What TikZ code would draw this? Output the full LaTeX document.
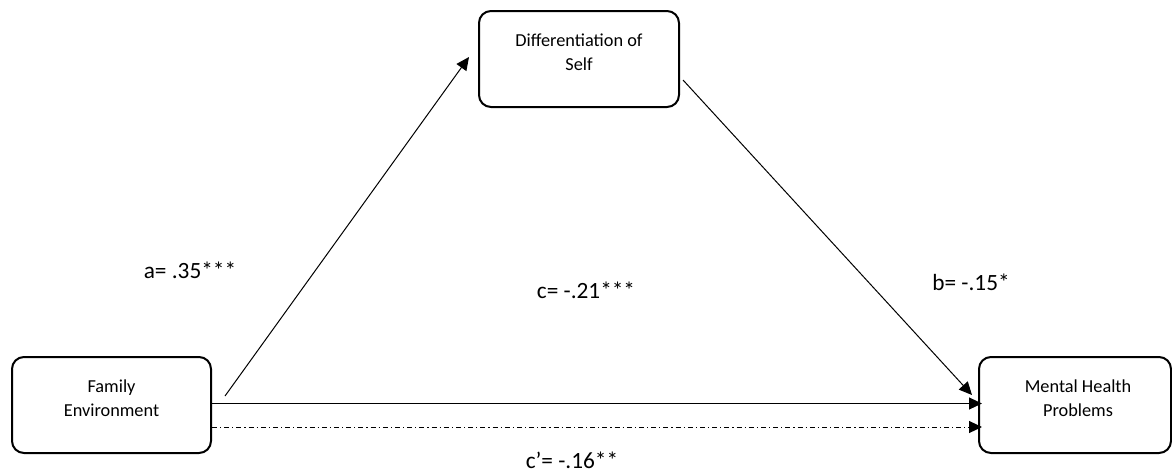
\documentclass[tikz,border=0pt]{standalone}
\usepackage{fontspec}
\setmainfont{Carlito}
\usetikzlibrary{arrows.meta}
\begin{document}
\begin{tikzpicture}[x=1pt,y=-1pt,
  box/.style={draw=black,line width=2pt,rounded corners=12pt,minimum height=96pt,inner sep=0pt},
  boxtext/.style={align=center,font=\fontsize{18.3}{24}\selectfont,inner sep=0pt},
  lab/.style={font=\fontsize{23.3}{28}\selectfont,inner sep=0pt,anchor=base},
  arr/.style={line width=1pt,-{Triangle[length=13pt,width=12pt]}},
  dashdot/.style={dash pattern=on 5pt off 3pt on 1.2pt off 3pt}]
\useasboundingbox (0,0) rectangle (1172,474);
% boxes
\node[box,minimum width=199pt] (fe) at (111.5,405) {};
\node[box,minimum width=200pt] (ds) at (579,59) {};
\node[box,minimum width=192pt] (mh) at (1075,405) {};
\node[boxtext] (fet) at (111.5,398) {Family\\Environment};
\node[boxtext] (dst) at (579,52) {Differentiation of\\Self};
\node[boxtext] (mht) at (1078,398) {Mental Health\\Problems};
% connector end points
\coordinate (a0) at (225,396);
\coordinate (a1) at (469,57);
\coordinate (b0) at (683,80);
\coordinate (b1) at (972,395);
\coordinate (c0) at (fe.east |- 0,403.5);
\coordinate (c1) at (982,403.5);
\coordinate (d0) at (fe.east |- 0,427);
\coordinate (d1) at (982,427);
\draw[arr] (a0) -- (a1);
\draw[arr] (b0) -- (b1);
\draw[arr] (c0) -- (c1);
\draw[arr,dashdot] (d0) -- (d1);
% labels
\node[lab] (la) at (190,278) {a= .35***};
\node[lab] (lc) at (586,298) {c= -.21***};
\node[lab] (lb) at (971,290) {b= -.15*};
\node[lab] (ld) at (572,468) {c’= -.16**};
\end{tikzpicture}
\end{document}
